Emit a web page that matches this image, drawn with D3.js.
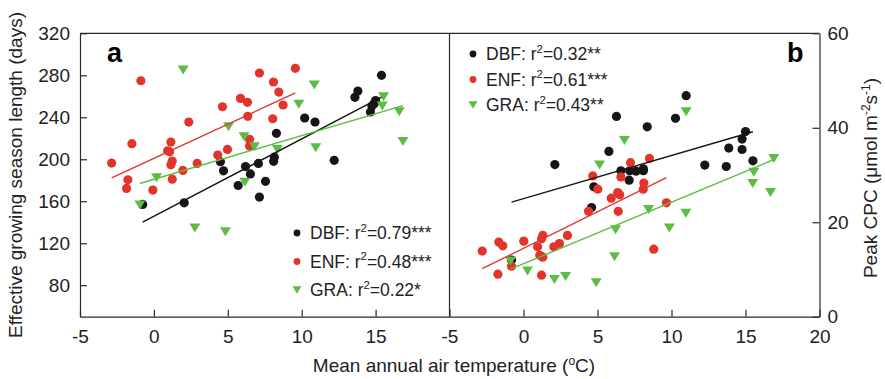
<!DOCTYPE html>
<html>
<head>
<meta charset="utf-8">
<script src="https://cdn.jsdelivr.net/npm/d3@7"></script>
<style>
  html, body { margin: 0; padding: 0; background: #fff; }
  svg { display: block; font-family: "Liberation Sans", Arial, sans-serif; }
</style>
</head>
<body>
<svg id="chart" width="885" height="379"></svg>
<script>
// ---- data: [temperature (°C), value] ----
const dbfGsl = [[-0.76,157],[2.05,158.5],[4.5,197.6],[4.71,189],[5.7,175],[6.2,193],[6.53,186],[7.07,196],[7.14,164],
  [7.55,179],[8.1,198],[8.15,202],[8.29,224.7],[10.2,239.3],[10.9,235.5],[12.2,199],[13.6,259],[13.8,265],
  [14.65,245],[14.75,250.7],[14.9,253],[15.0,256],[15.4,280]];
const enfGsl = [[-2.86,196.4],[-0.88,274.8],[-1.49,214.8],[-1.76,180.4],[-1.85,172.2],[-0.07,170.6],[0.93,208.1],
  [1.06,207.1],[1.15,216.4],[1.24,198.3],[1.15,194.7],[1.24,181],[1.96,189.4],[2.36,235.4],[2.93,196],[4.32,204],
  [4.64,250],[4.98,209.4],[5.86,258],[6.33,254.2],[6.35,240.9],[6.47,219],[6.47,212.6],[7.14,282.2],[8.04,238.6],
  [8.09,273.6],[8.45,264],[8.74,251.7],[9.57,286.6]];
const graGsl = [[-0.95,156.3],[0.18,182.3],[1.98,285],[2.77,134.4],[4.84,131],[5.05,231],[6.1,221.4],[6.15,178],
  [6.8,211.9],[8.35,209.4],[9.8,252.3],[10.85,270.7],[10.95,211],[15.54,259.6],[15.45,250.7],[16.6,245.3],[16.85,217]];

const dbfCpc = [[-0.81,12],[2.12,32.2],[4.6,23.1],[4.75,27.5],[5.77,35],[6.28,42.4],[6.58,30.9],[7.14,28.9],[7.18,30.9],
  [7.6,30.8],[8.1,31.3],[8.1,30.9],[8.36,40.2],[10.27,42],[10.99,46.8],[12.25,32.1],[13.7,31.8],[13.87,35.7],
  [14.77,35.4],[14.77,37.6],[15.0,39.2],[15.5,33]];
const enfCpc = [[-2.79,13.9],[-1.73,9],[-1.67,15.8],[-1.4,15],[-0.81,10.7],[0.02,16],[0.95,14.8],[1.1,13],[1.22,16.5],
  [1.3,17.2],[1.3,12.6],[1.22,8.8],[2.05,14.8],[2.43,15.5],[2.97,17.2],[4.39,22.3],[4.68,29.8],[5.02,27],[5.93,25.1],
  [6.37,26.3],[6.5,25.8],[6.4,22.3],[6.58,29.6],[7.23,32.6],[8.13,28.3],[8.09,27],[8.51,33.5],[8.8,14.3],[9.66,24.1]];
const graCpc = [[-0.88,11.8],[0.27,9.7],[2.09,7.9],[2.84,8.5],[4.91,7.2],[5.14,32.1],[6.15,12.7],[6.22,18.4],[6.82,37.3],
  [8.45,22.7],[9.86,18.8],[10.97,21.9],[10.99,43.4],[15.56,30.6],[15.49,28.2],[16.69,26.3],[16.91,33.5]];

const legendA = [["DBF: r", "=0.79***"], ["ENF: r", "=0.48***"], ["GRA: r", "=0.22*"]];
const legendB = [["DBF: r", "=0.32**"], ["ENF: r", "=0.61***"], ["GRA: r", "=0.43**"]];

const xTicksA = [-5, 0, 5, 10, 15];
const xTicksB = [-5, 0, 5, 10, 15, 20];
const yTicksA = [80, 120, 160, 200, 240, 280, 320];
const yTicksB = [0, 20, 40, 60];

const BLACK = "#161616";
const RED = "#e3342b";
const GREEN = "#5cbd45";
const AXIS = "#2a2a2a";

const plotTop = 33.3, plotBottom = 316.7;
const svg = d3.select("#chart");

const xA = d3.scaleLinear().domain([-5, 20]).range([80, 449.5]);
const xB = d3.scaleLinear().domain([-5, 20]).range([449.5, 819.5]);
const yA = d3.scaleLinear().domain([50, 320]).range([plotBottom, plotTop]);
const yB = d3.scaleLinear().domain([0, 60]).range([plotBottom, plotTop]);

// least squares fit, drawn across the range of the data
function fit(pts) {
  const mx = d3.mean(pts, d => d[0]), my = d3.mean(pts, d => d[1]);
  const b = d3.sum(pts, d => (d[0] - mx) * (d[1] - my)) / d3.sum(pts, d => (d[0] - mx) ** 2);
  const ext = d3.extent(pts, d => d[0]);
  return ext.map(x => [x, my + b * (x - mx)]);
}

const tri = (w, h) => `M${-w / 2},${-h / 2}L${w / 2},${-h / 2}L0,${h / 2}Z`;

function drawPanel(g, x, y, series) {
  // points
  series.forEach(s => {
    if (s.shape === "circle") {
      g.append("g").selectAll("circle").data(s.data).join("circle")
        .attr("cx", d => x(d[0])).attr("cy", d => y(d[1]))
        .attr("r", 4.6).attr("fill", s.color);
    } else {
      g.append("g").selectAll("path").data(s.data).join("path")
        .attr("transform", d => `translate(${x(d[0])},${y(d[1])})`)
        .attr("d", tri(11, 9)).attr("fill", s.color);
    }
  });
  // fitted lines
  const line = d3.line().x(d => x(d[0])).y(d => y(d[1]));
  series.forEach(s => {
    g.append("path").attr("d", line(fit(s.data)))
      .attr("fill", "none").attr("stroke", s.color).attr("stroke-width", 1.4);
  });
}

drawPanel(svg.append("g"), xA, yA, [
  { data: dbfGsl, color: BLACK, shape: "circle" },
  { data: enfGsl, color: RED, shape: "circle" },
  { data: graGsl, color: GREEN, shape: "tri" }
]);
drawPanel(svg.append("g"), xB, yB, [
  { data: dbfCpc, color: BLACK, shape: "circle" },
  { data: enfCpc, color: RED, shape: "circle" },
  { data: graCpc, color: GREEN, shape: "tri" }
]);

// AXES (ticks point inward, plain hyphen for negatives)
const plain = d => String(d);
function styleAxis(g) {
  g.selectAll("path, line").attr("stroke", AXIS).attr("stroke-width", 1.2);
  g.selectAll("text").attr("font-size", 19).attr("fill", "#222")
    .attr("font-family", "'Liberation Sans', Arial, sans-serif");
}
svg.append("g").attr("transform", `translate(0,${plotBottom})`)
  .call(d3.axisBottom(xA).tickValues(xTicksA).tickFormat(plain).tickSizeInner(-7).tickSizeOuter(0).tickPadding(13))
  .call(styleAxis);
svg.append("g").attr("transform", `translate(0,${plotBottom})`)
  .call(d3.axisBottom(xB).tickValues(xTicksB).tickFormat(plain).tickSizeInner(-7).tickSizeOuter(0).tickPadding(13))
  .call(styleAxis);
svg.append("g").attr("transform", `translate(${xA.range()[0]},0)`)
  .call(d3.axisLeft(yA).tickValues(yTicksA).tickFormat(plain).tickSizeInner(-7).tickSizeOuter(0).tickPadding(10))
  .call(styleAxis);
svg.append("g").attr("transform", `translate(${xB.range()[1]},0)`)
  .call(d3.axisRight(yB).tickValues(yTicksB).tickFormat(plain).tickSizeInner(-7).tickSizeOuter(0).tickPadding(8))
  .call(styleAxis);

// frame: top edges and divider
svg.append("path")
  .attr("d", `M${xA.range()[0]},${plotTop}H${xB.range()[1]}M${xA.range()[1]},${plotTop}V${plotBottom}`)
  .attr("stroke", AXIS).attr("stroke-width", 1.2).attr("fill", "none");

// PANEL LETTERS
svg.append("text").attr("x", 107).attr("y", 62).attr("font-size", 27).attr("font-weight", "bold").text("a");
svg.append("text").attr("x", 787).attr("y", 62).attr("font-size", 27).attr("font-weight", "bold").text("b");

// LEGENDS
function legend(items, x0, y0, dy, size) {
  const colors = [BLACK, RED, GREEN];
  const g = svg.append("g").attr("transform", `translate(${x0},${y0})`);
  items.forEach((it, i) => {
    const row = g.append("g").attr("transform", `translate(0,${i * dy})`);
    if (i < 2) row.append("circle").attr("r", 3.4).attr("fill", colors[i]);
    else row.append("path").attr("d", tri(9, 7.5)).attr("fill", colors[i]);
    const t = row.append("text").attr("x", 13).attr("y", 6).attr("font-size", size).attr("fill", "#222");
    t.append("tspan").text(it[0]);
    t.append("tspan").attr("font-size", size * 0.65).attr("dy", -size * 0.42).text("2");
    t.append("tspan").attr("dy", size * 0.42).text(it[1]);
  });
}
legend(legendA, 297, 233, 28.5, 17.5);
legend(legendB, 473, 54, 25.5, 17.5);

// AXIS TITLES
svg.append("text").attr("transform", "translate(22,175) rotate(-90)")
  .attr("text-anchor", "middle").attr("font-size", 19).attr("fill", "#222")
  .text("Effective growing season length (days)");

const xt = svg.append("text").attr("x", 454).attr("y", 372)
  .attr("text-anchor", "middle").attr("font-size", 19).attr("fill", "#222");
xt.append("tspan").text("Mean annual air temperature (");
xt.append("tspan").attr("font-size", 12).attr("dy", -7).text("o");
xt.append("tspan").attr("dy", 7).text("C)");

const yt = svg.append("text").attr("transform", "translate(877,178) rotate(-90)")
  .attr("text-anchor", "middle").attr("font-size", 19).attr("fill", "#222");
yt.append("tspan").text("Peak CPC (\u03bcmol m");
yt.append("tspan").attr("font-size", 12).attr("dy", -7).text("-2");
yt.append("tspan").attr("dy", 7).text("s");
yt.append("tspan").attr("font-size", 12).attr("dy", -7).text("-1");
yt.append("tspan").attr("dy", 7).text(")");
</script>
</body>
</html>
